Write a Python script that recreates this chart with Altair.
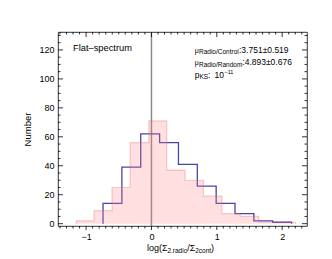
import altair as alt
import pandas as pd
import numpy as np

# ---------------- data ----------------
red_edges = [-1.148, -0.879, -0.603, -0.327, -0.041, 0.234, 0.515, 0.796, 1.077, 1.357, 1.643, 1.929, 2.205]
red_counts = [2, 9, 25, 56, 71, 37, 30, 19, 7, 5, 1, 1]

blue_edges = [-0.741, -0.4525, -0.164, 0.1245, 0.413, 0.7015, 0.99, 1.2785, 1.567, 1.8555, 2.144]
blue_counts = [14, 39, 62, 56, 41, 26, 14, 7, 2, 1]

x_labels = [-1, 0, 1, 2]
y_labels = [0, 20, 40, 60, 80, 100, 120]
x_minor = [round(v, 1) for v in np.arange(-1.4, 2.35, 0.1) if abs(v - round(v)) > 1e-6]
y_minor = [v for v in range(0, 135, 5) if v % 20 != 0]

X_DOMAIN = [-1.43, 2.38]
Y_DOMAIN = [-1.6, 132.4]
W, H = 249, 194
FONT = "Liberation Sans"

xs = alt.Scale(domain=X_DOMAIN, nice=False, zero=False)
ys = alt.Scale(domain=Y_DOMAIN, nice=False, zero=False)
ax_x = alt.Axis(values=x_labels, title=None)
ax_y = alt.Axis(values=y_labels, title="Number")


def outline(edges, counts):
    pts = [(edges[0], 0)]
    for i, c in enumerate(counts):
        pts.append((edges[i], c))
        pts.append((edges[i + 1], c))
    pts.append((edges[-1], 0))
    return pd.DataFrame({"x": [p[0] for p in pts], "y": [p[1] for p in pts], "o": range(len(pts))})


red_bins = pd.DataFrame({"x": red_edges[:-1], "r": red_edges[1:], "y": red_counts})
red_line = outline(red_edges, red_counts)
blue_line = outline(blue_edges, blue_counts)

X = lambda f="x": alt.X(f"{f}:Q", scale=xs, axis=ax_x)
Y = lambda f="y": alt.Y(f"{f}:Q", scale=ys, axis=ax_y)

# ---------------- layers ----------------
zero_line = alt.Chart(pd.DataFrame({"x": [0.0]})).mark_rule(color="#8a8a8a", strokeWidth=1.5).encode(
    x=X(), y=alt.value(0), y2=alt.value(H)
)

blue = alt.Chart(blue_line).mark_line(color="#4646aa", strokeWidth=1.3).encode(
    x=X(), y=Y(), order="o:Q"
)

red_fill = alt.Chart(red_bins).mark_rect(color="#ff8080", opacity=0.25).encode(
    x=X(), x2="r:Q", y=Y(), y2=alt.datum(0)
)

red_edge = alt.Chart(red_line).mark_line(color="#e06060", strokeWidth=1.2, opacity=0.3).encode(
    x=X(), y=Y(), order="o:Q"
)


def xticks(vals, y0, y1):
    return alt.Chart(pd.DataFrame({"x": vals})).mark_rule(color="black", strokeWidth=0.8).encode(
        x=X(), y=alt.value(y0), y2=alt.value(y1))


def yticks(vals, x0, x1):
    return alt.Chart(pd.DataFrame({"y": vals})).mark_rule(color="black", strokeWidth=0.8).encode(
        y=Y(), x=alt.value(x0), x2=alt.value(x1))


ticks = [
    xticks(x_labels, H, H + 4), xticks(x_minor, H, H + 2.5),
    xticks(x_labels, 0, 5), xticks(x_minor, 0, 2.5),
    yticks(y_labels, 0, 5), yticks(y_minor, 0, 2.5),
    yticks(y_labels, W - 5, W), yticks(y_minor, W - 2.5, W),
]

texts = [
    ("Flat\u2013spectrum", 15, 18.7, 9.3),
    ("\u03bc", 136.7, 20.7, 7), ("Radio/Control", 141, 22.2, 6.5), (":3.751\u00b10.519", 181, 20.7, 8.5),
    ("\u03bc", 136.7, 33.2, 7), ("Radio/Random", 141, 34.7, 6.5), (":4.893\u00b10.676", 184.3, 33.2, 8.5),
    ("p", 136.7, 45.8, 8.5), ("KS", 141.5, 47.3, 6.5), (":", 150, 45.8, 8.5), ("10", 156.5, 45.8, 8.5),
    ("\u221211", 166.5, 42, 5.5),
    ("log(\u03a3", 89, 218.7, 9), ("2,radio", 109.4, 220.7, 6.5), ("/\u03a3", 129.3, 218.7, 9),
    ("2cont", 137.2, 220.7, 6.5), (")", 153.1, 218.7, 9),
]

text_layers = [
    alt.Chart(pd.DataFrame({"a": [0]})).mark_text(
        text=t, align="left", baseline="alphabetic", fontSize=s, font=FONT, color="black"
    ).encode(x=alt.value(x), y=alt.value(y))
    for (t, x, y, s) in texts
]

chart = alt.layer(zero_line, blue, red_fill, red_edge, *ticks, *text_layers).properties(
    width=W, height=H,
    padding={"left": 50, "top": 24, "right": 17, "bottom": 27},
    autosize=alt.AutoSizeParams(type="none"),
).configure_view(stroke="black", strokeWidth=0.8).configure_axis(
    ticks=False, domain=False, grid=False, labelFontSize=9, labelFont=FONT, labelColor="black",
    titleFont=FONT, titleFontSize=9.5, titleFontWeight="normal", titleColor="black",
).configure_axisX(labelPadding=6).configure_axisY(labelPadding=4, titlePadding=6)

chart.save("out.html", embed_options={"renderer": "svg", "actions": False})
